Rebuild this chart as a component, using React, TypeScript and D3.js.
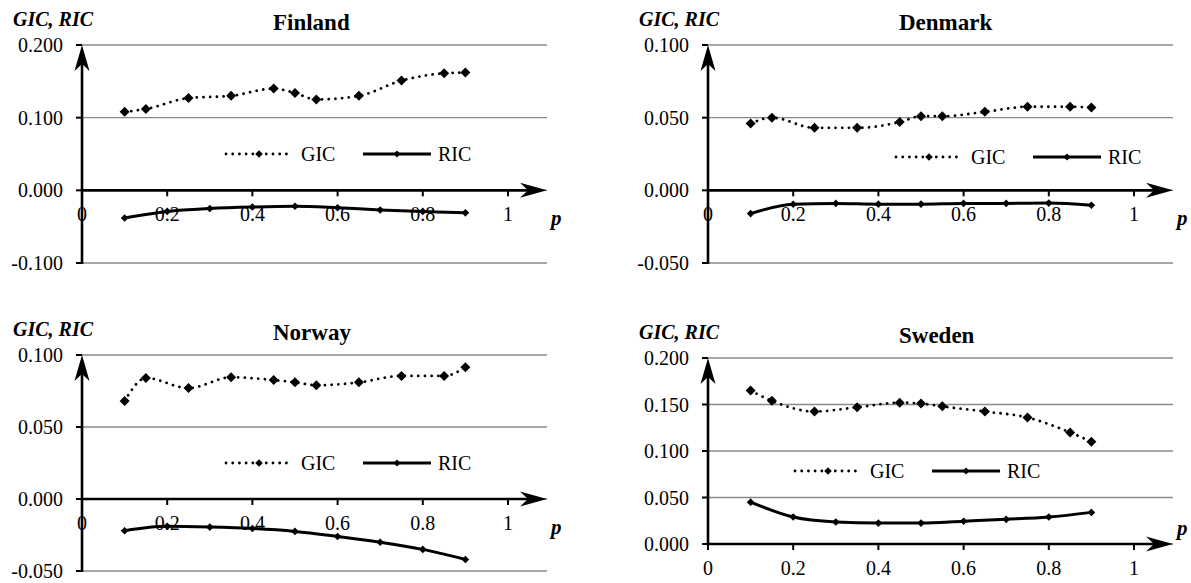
import React from "react";
import * as d3 from "d3";

const gicP = [0.1, 0.15, 0.25, 0.35, 0.45, 0.5, 0.55, 0.65, 0.75, 0.85, 0.9];
const ricP = [0.1, 0.2, 0.3, 0.4, 0.5, 0.6, 0.7, 0.8, 0.9];
const xTicks = [0, 0.2, 0.4, 0.6, 0.8, 1];

const finlandGIC = [0.108, 0.112, 0.127, 0.13, 0.14, 0.134, 0.125, 0.13, 0.151, 0.161, 0.162];
const finlandRIC = [-0.038, -0.029, -0.025, -0.023, -0.022, -0.024, -0.027, -0.029, -0.031];
const denmarkGIC = [0.046, 0.05, 0.043, 0.043, 0.047, 0.051, 0.051, 0.054, 0.0575, 0.0575, 0.057];
const denmarkRIC = [-0.016, -0.0096, -0.009, -0.0095, -0.0095, -0.009, -0.009, -0.0088, -0.0103];
const norwayGIC = [0.068, 0.084, 0.077, 0.0845, 0.0826, 0.081, 0.079, 0.081, 0.0855, 0.0855, 0.0915];
const norwayRIC = [-0.022, -0.019, -0.0195, -0.0205, -0.0225, -0.026, -0.03, -0.035, -0.042];
const swedenGIC = [0.165, 0.154, 0.1425, 0.147, 0.152, 0.151, 0.148, 0.1425, 0.136, 0.12, 0.11];
const swedenRIC = [0.045, 0.029, 0.0237, 0.0225, 0.0225, 0.0245, 0.0265, 0.029, 0.034];

const finlandTicks = [-0.1, 0, 0.1, 0.2];
const denmarkTicks = [-0.05, 0, 0.05, 0.1];
const norwayTicks = [-0.05, 0, 0.05, 0.1];
const swedenTicks = [0, 0.05, 0.1, 0.15, 0.2];

const FONT = '"Liberation Serif", "Times New Roman", Times, "DejaVu Serif", serif';

type PanelProps = {
  title: string;
  gic: number[];
  ric: number[];
  yTicks: number[];
  ax: number;
  yTopPx: number;
  yBotPx: number;
  legendX: number;
  legendY: number;
  pAbove?: boolean;
};

const fmt = (v: number) => (v < 0 ? "-" : "") + Math.abs(v).toFixed(3);

function diamond(cx: number, cy: number, r: number) {
  return `M${cx},${cy - r}L${cx + r},${cy}L${cx},${cy + r}L${cx - r},${cy}Z`;
}

const txt = { fontFamily: FONT } as React.CSSProperties;

function Panel(props: PanelProps) {
  const { title, gic, ric, yTicks, ax, yTopPx, yBotPx, legendX, legendY, pAbove } = props;
  const yMin = d3.min(yTicks)!;
  const yMax = d3.max(yTicks)!;
  const x = d3.scaleLinear().domain([0, 1]).range([ax, ax + 426]);
  const y = d3.scaleLinear().domain([yMin, yMax]).range([yBotPx, yTopPx]);
  const xEnd = ax + 465;
  const y0 = y(0);
  const line = d3
    .line<[number, number]>()
    .x((d) => x(d[0]))
    .y((d) => y(d[1]))
    .curve(d3.curveMonotoneX);
  const gicPts: [number, number][] = gicP.map((p, i) => [p, gic[i]]);
  const ricPts: [number, number][] = ricP.map((p, i) => [p, ric[i]]);

  return (
    <g>
      {yTicks.map((t) => (
        <line key={"g" + t} x1={ax} x2={xEnd} y1={y(t)} y2={y(t)} stroke="#8a8a8a" strokeWidth={1.4} />
      ))}
      {yTicks.map((t) => (
        <text key={"yl" + t} x={ax - 19} y={y(t)} dy="0.35em" textAnchor="end" fontSize={20} style={txt}>
          {fmt(t)}
        </text>
      ))}
      {yTicks.map((t) => (
        <line key={"yt" + t} x1={ax - 6} x2={ax} y1={y(t)} y2={y(t)} stroke="#000" strokeWidth={2} />
      ))}
      <line x1={ax} x2={ax} y1={yBotPx + 1} y2={yTopPx + 18} stroke="#000" strokeWidth={2.6} />
      <path
        d={`M${ax},${yTopPx}L${ax - 7.5},${yTopPx + 26}L${ax},${yTopPx + 19}L${ax + 7.5},${yTopPx + 26}Z`}
        fill="#000"
      />
      <line x1={ax} x2={xEnd - 18} y1={y0} y2={y0} stroke="#000" strokeWidth={2.6} />
      <path d={`M${xEnd},${y0}L${xEnd - 27},${y0 - 7.5}L${xEnd - 19},${y0}L${xEnd - 27},${y0 + 7.5}Z`} fill="#000" />
      {xTicks.map((t) => (
        <line key={"xt" + t} x1={x(t)} x2={x(t)} y1={y0} y2={y0 + 6} stroke="#000" strokeWidth={2} />
      ))}
      {xTicks.map((t) => (
        <text key={"xl" + t} x={x(t)} y={y0 + 24} dy="0.35em" textAnchor="middle" fontSize={20} style={txt}>
          {String(t)}
        </text>
      ))}
      <text
        x={ax + 469}
        y={pAbove ? y0 - 9 : y0 + 35}
        fontSize={21}
        fontWeight="bold"
        fontStyle="italic"
        style={txt}
      >
        p
      </text>
      <text x={ax - 69} y={yTopPx - 19} fontSize={20} fontWeight="bold" fontStyle="italic" style={txt}>
        GIC, RIC
      </text>
      <text x={ax + 191} y={yTopPx - 15} fontSize={23} fontWeight="bold" style={txt}>
        {title}
      </text>
      <path
        d={line(gicPts) || ""}
        fill="none"
        stroke="#000"
        strokeWidth={2.8}
        strokeDasharray="0.01 6.7"
        strokeLinecap="round"
      />
      {gicPts.map((d, i) => (
        <path key={"gm" + i} d={diamond(x(d[0]), y(d[1]), 5)} fill="#000" />
      ))}
      <path d={line(ricPts) || ""} fill="none" stroke="#000" strokeWidth={3} strokeLinejoin="round" />
      {ricPts.map((d, i) => (
        <path key={"rm" + i} d={diamond(x(d[0]), y(d[1]), 3.8)} fill="#000" />
      ))}
      <line
        x1={legendX}
        x2={legendX + 62}
        y1={legendY}
        y2={legendY}
        stroke="#000"
        strokeWidth={2.8}
        strokeDasharray="0.01 6.7"
        strokeLinecap="round"
      />
      <path d={diamond(legendX + 33, legendY, 3.8)} fill="#000" />
      <text x={legendX + 75} y={legendY} dy="0.35em" fontSize={20} style={txt}>
        GIC
      </text>
      <line x1={legendX + 137} x2={legendX + 205} y1={legendY} y2={legendY} stroke="#000" strokeWidth={3} />
      <path d={diamond(legendX + 171, legendY, 3.5)} fill="#000" />
      <text x={legendX + 212} y={legendY} dy="0.35em" fontSize={20} style={txt}>
        RIC
      </text>
    </g>
  );
}

export default function App() {
  return (
    <svg
      width={1191}
      height={583}
      style={{ position: "absolute", left: 0, top: 0, background: "#fff", fontFamily: FONT }}
    >
      <rect width={1191} height={583} fill="#fff" />
      <Panel title="Finland" gic={finlandGIC} ric={finlandRIC} yTicks={finlandTicks} ax={82} yTopPx={45} yBotPx={263} legendX={226} legendY={154} />
      <Panel title="Denmark" gic={denmarkGIC} ric={denmarkRIC} yTicks={denmarkTicks} ax={708} yTopPx={45} yBotPx={263} legendX={896} legendY={157} />
      <Panel title="Norway" gic={norwayGIC} ric={norwayRIC} yTicks={norwayTicks} ax={82} yTopPx={355} yBotPx={571} legendX={226} legendY={463} />
      <Panel title="Sweden" gic={swedenGIC} ric={swedenRIC} yTicks={swedenTicks} ax={708} yTopPx={358} yBotPx={544} legendX={795} legendY={471} pAbove />
    </svg>
  );
}
